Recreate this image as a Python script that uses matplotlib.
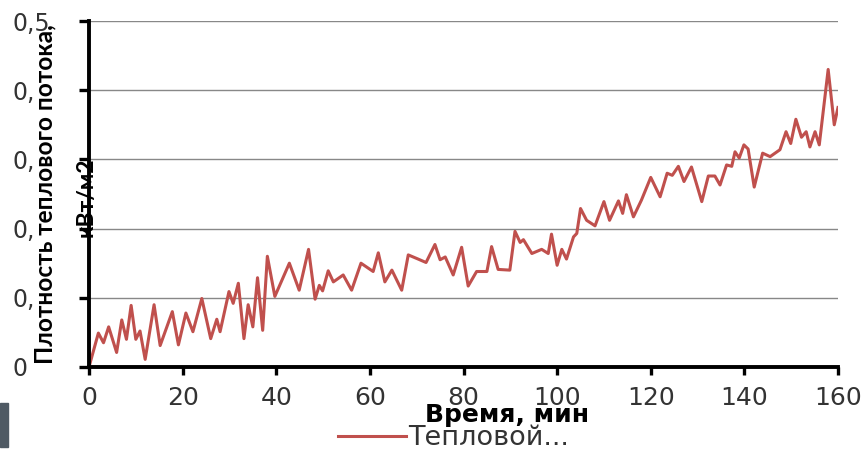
import matplotlib
matplotlib.use("Agg")
import matplotlib.pyplot as plt
from matplotlib.lines import Line2D
from matplotlib.patches import Rectangle

# ---- data ----
time_min = [0, 2.0, 3.1, 4.2, 5.9, 7.0, 8.0, 9.0, 10.0, 10.9, 12.0, 13.9, 15.2, 17.8, 19.1,
            20.7, 22.2, 24.1, 26.0, 27.3, 28.0, 29.9, 30.8, 31.9, 33.1, 34.0, 35.0, 36.0,
            37.1, 38.1, 39.7, 42.8, 44.9, 46.9, 48.3, 49.2, 49.9, 51.1, 52.2, 54.3, 56.1,
            58.1, 60.7, 61.8, 63.2, 64.7, 66.8, 68.2, 70.3, 72.0, 73.9, 75.0, 76.1, 77.8,
            79.6, 81.0, 82.8, 85.0, 86.0, 87.4, 89.9, 91.0, 92.1, 92.8, 94.6, 96.7, 98.1,
            98.8, 100.0, 101.0, 102.0, 103.5, 104.2, 105.0, 106.3, 108.1, 110.0, 111.2,
            113.1, 114.0, 114.8, 116.3, 118.0, 120.0, 122.0, 123.5, 124.6, 125.9, 127.1,
            128.7, 130.9, 132.3, 133.7, 134.8, 136.2, 137.3, 138.0, 138.9, 139.9, 140.8,
            142.1, 143.9, 145.5, 147.6, 148.9, 149.9, 151.0, 152.2, 153.2, 154.0, 155.1,
            156.0, 157.9, 159.2, 160.0]
heat_flux = [0.0, 0.049, 0.035, 0.058, 0.021, 0.068, 0.040, 0.089, 0.040, 0.052, 0.011,
             0.090, 0.031, 0.080, 0.032, 0.078, 0.051, 0.099, 0.041, 0.069, 0.051, 0.109,
             0.092, 0.121, 0.041, 0.090, 0.058, 0.129, 0.053, 0.160, 0.102, 0.150, 0.111,
             0.170, 0.098, 0.118, 0.110, 0.139, 0.123, 0.133, 0.111, 0.150, 0.138, 0.165,
             0.123, 0.140, 0.111, 0.162, 0.156, 0.151, 0.177, 0.155, 0.159, 0.133, 0.173,
             0.117, 0.138, 0.138, 0.174, 0.141, 0.140, 0.196, 0.180, 0.184, 0.164, 0.170,
             0.164, 0.192, 0.147, 0.170, 0.156, 0.188, 0.193, 0.229, 0.212, 0.204, 0.239,
             0.212, 0.240, 0.222, 0.249, 0.217, 0.241, 0.274, 0.246, 0.280, 0.277, 0.290,
             0.268, 0.289, 0.239, 0.276, 0.276, 0.263, 0.292, 0.290, 0.311, 0.302, 0.321,
             0.315, 0.260, 0.309, 0.304, 0.314, 0.340, 0.323, 0.358, 0.332, 0.340, 0.318,
             0.340, 0.321, 0.430, 0.350, 0.375]

x_ticks = [0, 20, 40, 60, 80, 100, 120, 140, 160]
x_tick_labels = ["0", "20", "40", "60", "80", "100", "120", "140", "160"]
y_ticks = [0, 0.1, 0.2, 0.3, 0.4, 0.5]
y_tick_labels = ["0", "0,", "0,", "0,", "0,", "0,5"]

series_name = "Тепловой..."
x_title = "Время, мин"
y_title_1 = "Плотность теплового потока,"
y_title_2 = "кВт/м2"

WIDE = ["DejaVu Sans"]
NARROW = ["Lato", "DejaVu Sans"]
plt.rcParams["font.family"] = WIDE

W, H = 865, 451
fig = plt.figure(figsize=(W / 100, H / 100), dpi=100)
ax = fig.add_axes([89 / W, 1 - 367 / H, (838 - 89) / W, (367 - 21) / H])

ax.plot(time_min, heat_flux, color="#c0504d", lw=2.2, solid_joinstyle="round")

ax.set_xlim(0, 160)
ax.set_ylim(0, 0.5)
ax.set_xticks(x_ticks)
ax.set_xticklabels(x_tick_labels, fontsize=18, color="#333333")
ax.set_yticks(y_ticks)
ax.set_yticklabels(y_tick_labels, fontsize=17, color="#333333")
for lab in ax.get_yticklabels():
    lab.set_horizontalalignment("left")

ax.tick_params(axis="x", direction="out", length=6, width=2.4, pad=8)
ax.tick_params(axis="y", direction="out", length=7, width=2.4, pad=48)

ax.grid(axis="y", color="#888888", lw=1.0)
ax.set_axisbelow(True)
for s in ["top", "right"]:
    ax.spines[s].set_visible(False)
for s in ["left", "bottom"]:
    ax.spines[s].set_linewidth(2.8)
    ax.spines[s].set_color("black")
    ax.spines[s].set_zorder(5)

# axis titles
fig.text(507 / W, 1 - 415 / H, x_title, ha="center", va="center",
         fontsize=18, fontweight="bold", color="black")
fig.text(45 / W, 1 - 194 / H, y_title_1, ha="center", va="center", rotation=90,
         fontsize=17.6, fontweight="bold", color="black", family=NARROW)
fig.text(86 / W, 1 - 197 / H, y_title_2, ha="center", va="center", rotation=90,
         fontsize=16.5, fontweight="bold", color="black", zorder=10, family=NARROW)

# legend
leg_handle = Line2D([], [], color="#c0504d", lw=2.2)
fig.legend([leg_handle], [series_name], loc="center left",
           bbox_to_anchor=(338 / W, 1 - 438 / H),
           frameon=False, fontsize=19.5, handlelength=2.5, handletextpad=0.1,
           borderpad=0, borderaxespad=0, labelcolor="#333333")

# dark strip at bottom-left
fig.patches.append(Rectangle((0, 1 - 447 / H), 8 / W, 44 / H, transform=fig.transFigure,
                             color="#4f5a64", zorder=0))

fig.savefig("out.png", dpi=100)
